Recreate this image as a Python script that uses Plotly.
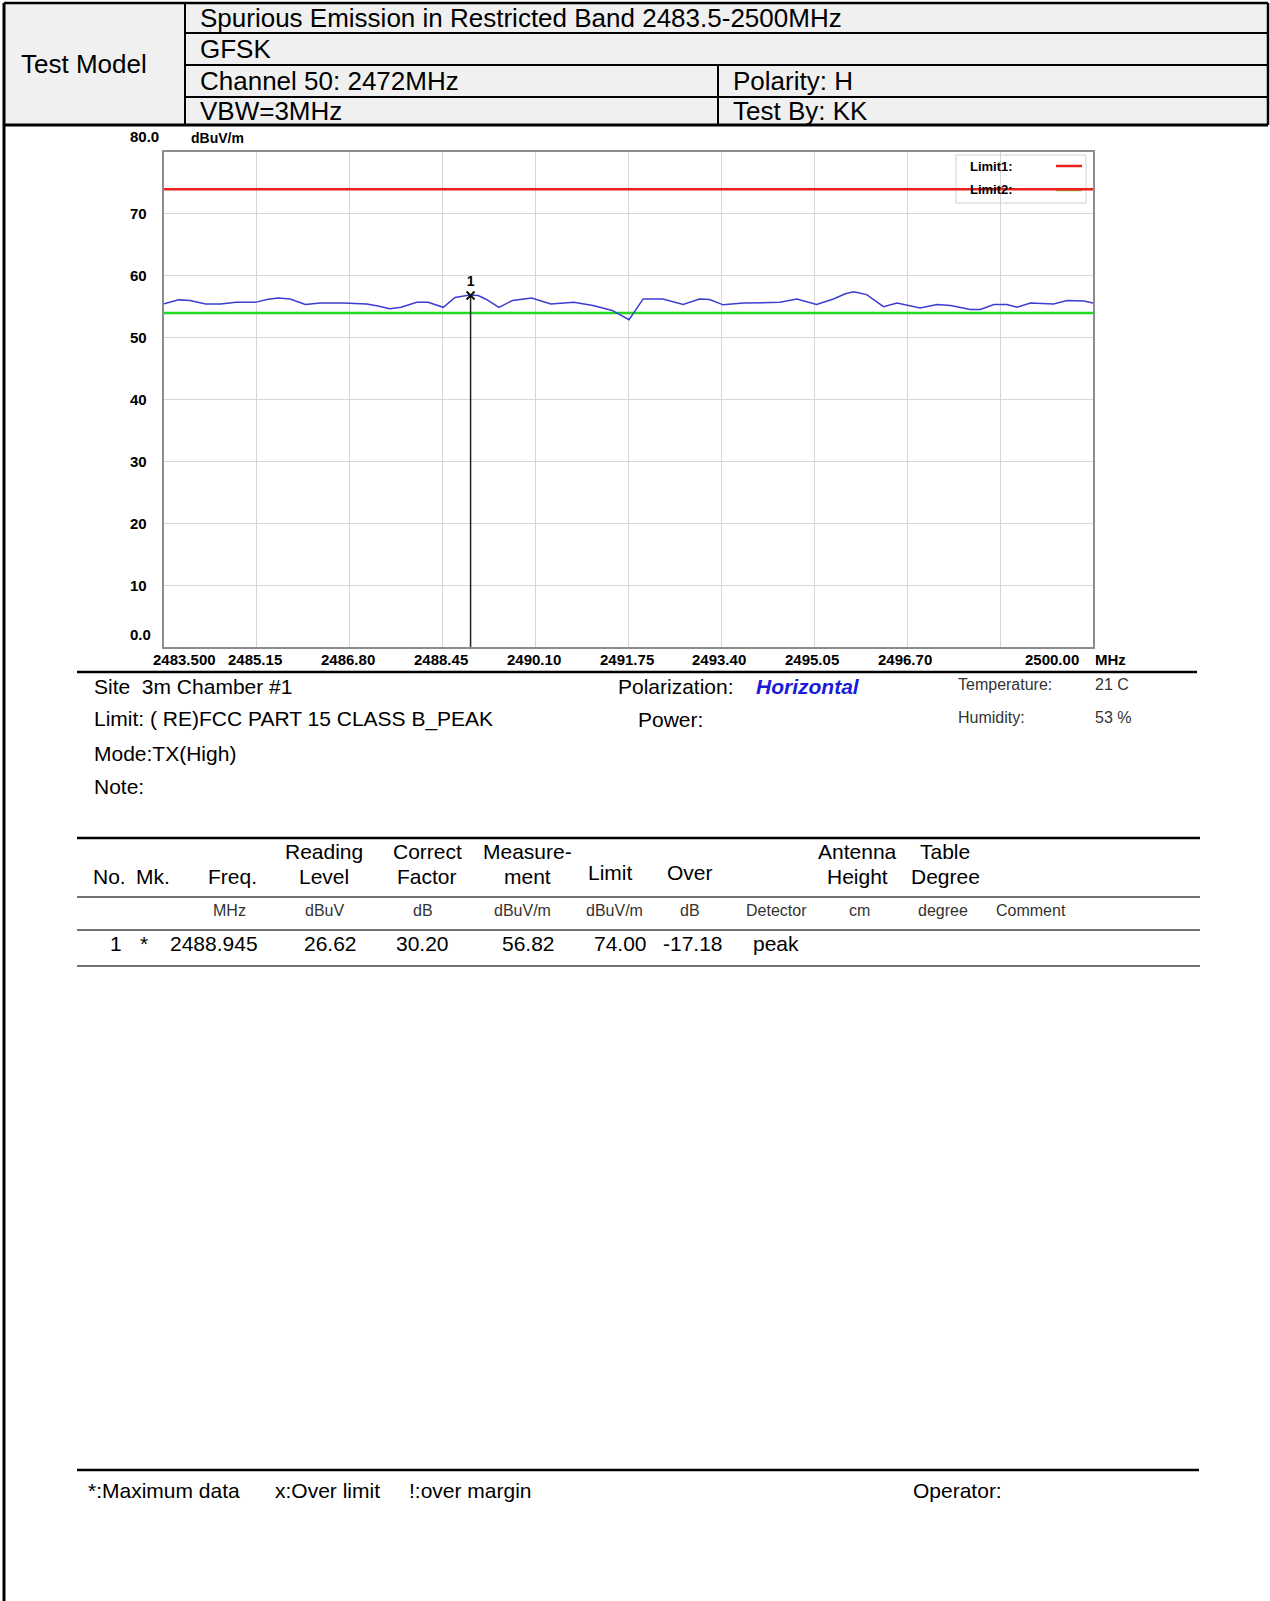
import plotly.graph_objects as go

# ---------------- data ----------------
freq_mhz = [2483.50, 2483.76, 2483.96, 2484.24, 2484.51, 2484.78, 2485.12, 2485.35, 2485.53, 2485.74, 2486.01,
            2486.28, 2486.69, 2487.10, 2487.30, 2487.51, 2487.71, 2487.99, 2488.19, 2488.46, 2488.67, 2488.93,
            2489.08, 2489.21, 2489.45, 2489.69, 2490.03, 2490.37, 2490.78, 2491.12, 2491.46, 2491.76,
            2492.01, 2492.36, 2492.72, 2493.01, 2493.19, 2493.43, 2493.79, 2494.44, 2494.74, 2495.09,
            2495.39, 2495.60, 2495.75, 2495.98, 2496.28, 2496.52, 2496.93, 2497.23, 2497.47, 2497.82, 2498.00,
            2498.24, 2498.47, 2498.65, 2498.89, 2499.30, 2499.54, 2499.84, 2500.00]
level_dbuv_m = [55.45, 56.10, 56.00, 55.45, 55.45, 55.70, 55.70, 56.20, 56.40, 56.25, 55.35,
                55.60, 55.60, 55.45, 55.10, 54.65, 54.90, 55.70, 55.70, 54.90, 56.50, 56.90,
                56.80, 56.25, 54.90, 56.00, 56.40, 55.45, 55.70, 55.20, 54.40, 52.90,
                56.25, 56.25, 55.35, 56.25, 56.15, 55.30, 55.60, 55.70, 56.25, 55.35,
                56.25, 57.10, 57.40, 56.95, 55.00, 55.60, 54.80, 55.35, 55.20, 54.55, 54.55,
                55.35, 55.35, 54.90, 55.60, 55.45, 56.00, 55.90, 55.60]
x_range = [2483.5, 2500.0]
limit1 = [74.0, 74.0]
limit2 = [54.0, 54.0]
marker_freq = [2488.945]
marker_level = [56.82]
marker_label = ["1"]

x_tick_vals = [2483.5, 2485.15, 2486.80, 2488.45, 2490.10, 2491.75, 2493.40, 2495.05, 2496.70, 2498.35, 2500.0]
x_tick_text = ["2483.500", "2485.15", "2486.80", "2488.45", "2490.10", "2491.75", "2493.40", "2495.05", "2496.70", "", "2500.00"]
y_tick_vals = [0, 10, 20, 30, 40, 50, 60, 70, 80]
y_tick_text = ["0.0", "10", "20", "30", "40", "50", "60", "70", "80.0"]

header_rows = ["Spurious Emission in Restricted Band 2483.5-2500MHz", "GFSK", "Channel 50: 2472MHz", "VBW=3MHz"]
header_right = ["Polarity: H", "Test By: KK"]

tbl_head1 = ["", "", "", "Reading", "Correct", "Measure-", "", "", "", "Antenna", "Table", ""]
tbl_head2 = ["No.", "Mk.", "Freq.", "Level", "Factor", "ment", "Limit", "Over", "", "Height", "Degree", ""]
tbl_units = ["", "", "MHz", "dBuV", "dB", "dBuV/m", "dBuV/m", "dB", "Detector", "cm", "degree", "Comment"]
tbl_row = ["1", "*", "2488.945", "26.62", "30.20", "56.82", "74.00", "-17.18", "peak", "", "", ""]

# ---------------- layout helpers ----------------
W, H = 1270, 1601
FONT = "Liberation Sans, Arial, sans-serif"
PL, PR, PT, PB = 164, 1093, 152, 647
TICK_SIZE = 15


def px(x):
    return x / W


def py(y):
    return 1 - y / H


shapes = []
ann = []


def line(x0, y0, x1, y1, w=2, c="black"):
    shapes.append(dict(type="line", xref="paper", yref="paper", x0=px(x0), y0=py(y0), x1=px(x1), y1=py(y1),
                       line=dict(color=c, width=w), layer="above"))


def text(x, y, s, size=21, anchor="left", color="black", yanchor="middle"):
    ann.append(dict(xref="paper", yref="paper", x=px(x), y=py(y), text=s, showarrow=False,
                    xanchor=anchor, yanchor=yanchor, font=dict(family=FONT, size=size, color=color)))


# ---------------- header table ----------------
shapes.append(dict(type="rect", xref="paper", yref="paper", x0=px(4), y0=py(3), x1=px(1268), y1=py(125),
                   fillcolor="#f0f0f0", line=dict(width=0), layer="below"))
line(4, 3, 1268, 3, 2.5)
line(1268, 3, 1268, 125, 2.5)
line(185, 33, 1268, 33, 2)
line(185, 65, 1268, 65, 2)
line(185, 97, 1268, 97, 2)
line(185, 3, 185, 125, 2)
line(718, 65, 718, 125, 2)
line(4, 125, 1268, 125, 3)
line(4, 3, 4, 1601, 3)

text(19, 64, "Test Model", 26)
for yy, s in zip([18, 49, 81, 111], header_rows):
    text(198, yy, s, 26)
for yy, s in zip([81, 111], header_right):
    text(731, yy, s, 26)

# ---------------- plot: tick labels / legend ----------------
for v, s in zip(x_tick_vals, x_tick_text):
    if not s:
        continue
    if v == x_range[0]:
        anchor, shift = "center", 20
    elif v == x_range[1]:
        anchor, shift = "right", -12
    else:
        anchor, shift = "center", -2
    ann.append(dict(xref="x", yref="paper", x=v, y=py(660), text="<b>%s</b>" % s, showarrow=False,
                    xanchor=anchor, yanchor="middle", xshift=shift,
                    font=dict(family=FONT, size=TICK_SIZE, color="black")))
ann.append(dict(xref="x", yref="paper", x=x_range[1], y=py(660), text="<b>MHz</b>", showarrow=False,
                xanchor="left", yanchor="middle", xshift=0, font=dict(family=FONT, size=TICK_SIZE, color="black")))

for v, s in zip(y_tick_vals, y_tick_text):
    shift = 0
    if v == 80:
        shift = 15
    elif v == 0:
        shift = 13
    ann.append(dict(xref="paper", yref="y", x=px(128), y=v, text="<b>%s</b>" % s, showarrow=False,
                    xanchor="left", yanchor="middle", yshift=shift,
                    font=dict(family=FONT, size=TICK_SIZE, color="black")))
text(189, 138, "<b>dBuV/m</b>", 14)


# legend box in axis-domain coordinates (drawn above grid, below traces)
def dx(x):
    return (x - PL) / (PR - PL)


def dy(y):
    return (PB - y) / (PB - PT)


shapes.append(dict(type="rect", xref="x domain", yref="y domain", x0=dx(956), y0=dy(203), x1=dx(1086), y1=dy(155),
                   fillcolor="white", line=dict(color="#d0d0d0", width=1), layer="below"))
shapes.append(dict(type="line", xref="x domain", yref="y domain", x0=dx(1056), y0=dy(166), x1=dx(1082), y1=dy(166),
                   line=dict(color="#e8211d", width=2.5), layer="below"))
shapes.append(dict(type="line", xref="x domain", yref="y domain", x0=dx(1056), y0=dy(190), x1=dx(1082), y1=dy(190),
                   line=dict(color="#a7b43c", width=2.5), layer="below"))
text(968, 166, "<b>Limit1:</b>", 13)
text(968, 189, "<b>Limit2:</b>", 13)

# ---------------- info block ----------------
line(77, 672, 1197, 672, 2.5)
text(92, 686, "Site\u00a0\u00a03m Chamber #1")
text(92, 719, "Limit: ( RE)FCC PART 15 CLASS B_PEAK")
text(92, 753, "Mode:TX(High)")
text(92, 786, "Note:")
text(616, 686, "Polarization:")
text(754, 686, "<b><i>Horizontal</i></b>", 21, color="#1a1ad8")
text(636, 719, "Power:")
text(956, 684, "Temperature:", 16, color="#333333")
text(1093, 684, "21 C", 16, color="#333333")
text(956, 717, "Humidity:", 16, color="#333333")
text(1093, 717, "53 %", 16, color="#333333")

# ---------------- result table ----------------
line(77, 838, 1200, 838, 2.5)
line(77, 897, 1200, 897, 1.5, "#444444")
line(77, 930, 1200, 930, 1.5, "#444444")
line(77, 966, 1200, 966, 1.5, "#444444")
head_x = [109, 153, 232, 324, 427, 527, 610, 690, 776, 857, 945, 1031]
unit_x = [109, 153, 229, 324, 423, 522, 614, 690, 776, 859, 943, 1031]
row_x = [116, 144, 214, 330, 422, 528, 620, 693, 776, 859, 943, 1031]
for xx, s in zip(head_x, tbl_head1):
    if s:
        text(xx, 851, s, anchor="center")
for xx, s in zip(head_x, tbl_head2):
    if s:
        yy = 872 if s in ("Limit", "Over") else 876
        text(xx, yy, s, anchor="center")
for xx, s in zip(unit_x, tbl_units):
    if s:
        text(xx, 910, s, 16, anchor="center", color="#333333")
for xx, s in zip(row_x, tbl_row):
    if s:
        text(xx, 944, s, anchor="center")

# ---------------- footer ----------------
line(77, 1470, 1199, 1470, 2.5)
text(86, 1490, "*:Maximum data")
text(273, 1490, "x:Over limit")
text(407, 1490, "!:over margin")
text(911, 1490, "Operator:")

# ---------------- traces ----------------
fig = go.Figure()
fig.add_trace(go.Scatter(x=x_range, y=limit2, mode="lines", line=dict(color="#1fdc1f", width=2.5), hoverinfo="skip"))
fig.add_trace(go.Scatter(x=[marker_freq[0], marker_freq[0]], y=[0, marker_level[0]], mode="lines",
                         line=dict(color="#222222", width=1.5), hoverinfo="skip"))
fig.add_trace(go.Scatter(x=freq_mhz, y=level_dbuv_m, mode="lines", line=dict(color="#3c3cd0", width=1.5)))
fig.add_trace(go.Scatter(x=x_range, y=limit1, mode="lines", line=dict(color="#e8211d", width=2.5), hoverinfo="skip"))
fig.add_trace(go.Scatter(x=marker_freq, y=marker_level, mode="markers+text",
                         text=["<b>%s</b>" % t for t in marker_label], textposition="top center",
                         textfont=dict(family=FONT, size=14, color="black"),
                         marker=dict(symbol="x-thin", size=8, line=dict(color="#111111", width=2))))

fig.update_layout(
    width=W, height=H, margin=dict(l=0, r=0, t=0, b=0),
    paper_bgcolor="white", plot_bgcolor="rgba(0,0,0,0)", showlegend=False,
    shapes=shapes, annotations=ann,
    xaxis=dict(domain=[px(PL), px(PR)], range=x_range, tickmode="array", tickvals=x_tick_vals,
               showticklabels=False, ticks="", showgrid=True, gridcolor="#d6d6d6", gridwidth=1,
               showline=True, linecolor="#8c8c8c", linewidth=2, mirror=True, zeroline=False),
    yaxis=dict(domain=[py(PB), py(PT)], range=[0, 80], tickmode="array", tickvals=y_tick_vals,
               showticklabels=False, ticks="", showgrid=True, gridcolor="#d6d6d6", gridwidth=1,
               showline=True, linecolor="#8c8c8c", linewidth=2, mirror=True, zeroline=False),
)

fig.write_html("out.html", config={"displayModeBar": False},
               post_script="document.body.style.margin='0';document.body.style.overflow='hidden';")
